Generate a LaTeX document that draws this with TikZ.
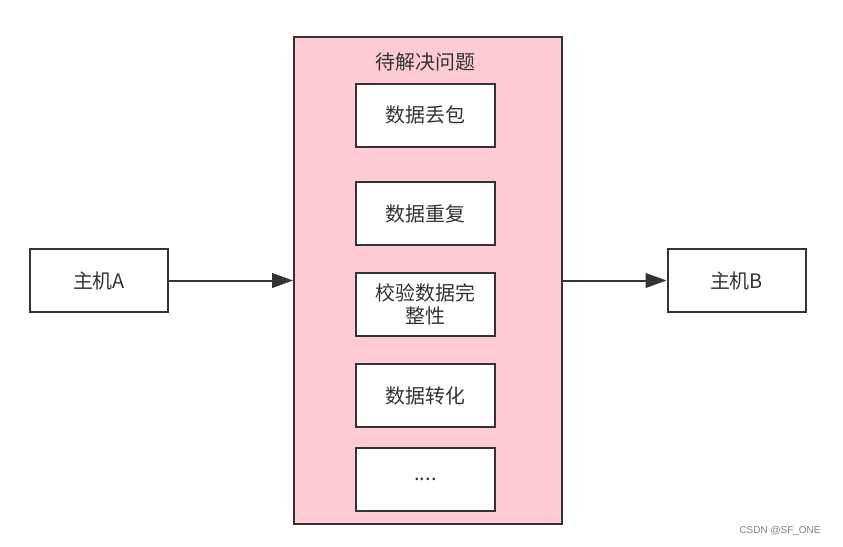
\documentclass[tikz,border=0pt]{standalone}
\usepackage{fontspec}
\setmainfont{Noto Sans CJK SC}
\newfontfamily\markfont{Liberation Sans}
\usepackage{tikz}
\usetikzlibrary{arrows.meta,positioning}
\definecolor{issuepink}{RGB}{255,204,213}
\definecolor{linegray}{RGB}{51,51,51}
\tikzset{box/.style={draw=linegray,line width=1.7pt,fill=white,align=center,minimum width=4.17cm,minimum height=1.89cm,inner sep=2pt,text=linegray,font=\fontsize{17}{20}\selectfont},
  host/.style={box,minimum width=4.14cm},
  arr/.style={-{Triangle[length=6.3mm,width=4.4mm]},line width=1.7pt,draw=linegray}}

\begin{document}
\begin{tikzpicture}[x=0.03cm,y=-0.03cm]
\useasboundingbox[fill=white] (0,0) rectangle (843,546);
\node[draw=linegray,line width=1.7pt,fill=issuepink,minimum width=8.04cm,minimum height=14.61cm] (issues) at (428,280.5){};
\node[text=linegray,font=\fontsize{17}{20}\selectfont] (title) at (425.5,62){待解决问题};
\node[box] (loss) at (425.5,115){数据丢包};
\node[box] (dup) at (425.5,213.5){数据重复};
\node[box] (check) at (425.5,304.5){校验数据完\\整性};
\node[box] (conv) at (425.5,395.5){数据转化};
\node[box] (more) at (425.5,479.5){....};
\node[host] (hostA) at (99,280.5){主机A};
\node[host] (hostB) at (736.5,280.5){主机B};
\draw[arr] (hostA) -- (issues.west|-hostA);
\draw[arr] (issues.east|-hostB) -- (hostB);
\node[text=gray,font=\markfont\fontsize{8.5}{10}\selectfont] (mark) at (780,531){CSDN @SF\_ONE};
\end{tikzpicture}
\end{document}
